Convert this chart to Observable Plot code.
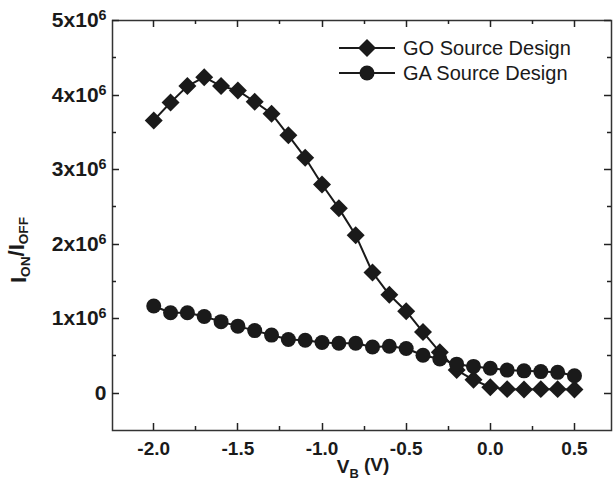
<!DOCTYPE html>
<html><head><meta charset="utf-8">
<script src="https://cdn.jsdelivr.net/npm/d3@7"></script>
<script src="https://cdn.jsdelivr.net/npm/@observablehq/plot@0.6"></script>
<style>body{margin:0;background:#fff} #chart svg{display:block}</style>
</head><body><div id="chart"></div>
<script>
// ---- data ----
const vb = [-2.0,-1.9,-1.8,-1.7,-1.6,-1.5,-1.4,-1.3,-1.2,-1.1,-1.0,-0.9,-0.8,-0.7,-0.6,-0.5,-0.4,-0.3,-0.2,-0.1,0.0,0.1,0.2,0.3,0.4,0.5];
const goValues = [3.66e6,3.90e6,4.12e6,4.24e6,4.12e6,4.06e6,3.91e6,3.75e6,3.46e6,3.16e6,2.80e6,2.48e6,2.12e6,1.62e6,1.32e6,1.10e6,0.82e6,0.55e6,0.31e6,0.18e6,0.08e6,0.055e6,0.05e6,0.055e6,0.055e6,0.05e6];
const gaValues = [1.17e6,1.08e6,1.08e6,1.03e6,0.96e6,0.90e6,0.84e6,0.78e6,0.72e6,0.71e6,0.68e6,0.67e6,0.67e6,0.62e6,0.63e6,0.60e6,0.51e6,0.46e6,0.39e6,0.36e6,0.335e6,0.31e6,0.30e6,0.29e6,0.28e6,0.235e6];
const seriesNames = ["GO Source Design","GA Source Design"];
const xTicks = [-2.0,-1.5,-1.0,-0.5,0.0,0.5];
const xTickLabels = ["-2.0","-1.5","-1.0","-0.5","0.0","0.5"];
const xMinorTicks = [-1.75,-1.25,-0.75,-0.25,0.25];
const yTicks = [0,1e6,2e6,3e6,4e6,5e6];
const yTickLabels = ["0","1x10^6","2x10^6","3x10^6","4x10^6","5x10^6"];
const yMinorTicks = [0.5e6,1.5e6,2.5e6,3.5e6,4.5e6];
const xLabel = ["V","B"," (V)"];
const yLabel = ["I","ON","/I","OFF"];

const goRows = vb.map((x,i)=>({vb:x, value:goValues[i], series:seriesNames[0]}));
const gaRows = vb.map((x,i)=>({vb:x, value:gaValues[i], series:seriesNames[1]}));

const ink = "#1a1a1a";
const font = "Liberation Sans, Arial, Helvetica, sans-serif";
const M = {left: 112, right: 2, top: 20, bottom: 63}, W = 613, H = 493;

const plot = Plot.plot({
  width: W, height: H,
  marginLeft: M.left, marginRight: M.right, marginTop: M.top, marginBottom: M.bottom,
  style: {fontFamily: font, color: ink, background: "#fff"},
  x: {domain: [-2.245, 0.72]},
  y: {domain: [-0.5e6, 5e6]},
  marks: [
    Plot.frame({stroke: "#333", strokeWidth: 1.5}),
    Plot.axisX(xTicks, {anchor: "bottom", tickSize: 0, tickPadding: 11, label: null, fontSize: 19, fontWeight: "bold", fill: ink,
      tickFormat: d => xTickLabels[xTicks.indexOf(d)]}),
    Plot.axisY(yTicks, {anchor: "left", tickSize: 0, tickPadding: 6, label: null, fontSize: 21, fontWeight: "bold", fill: ink,
      tickFormat: d => yTickLabels[yTicks.indexOf(d)]}),
    Plot.line(goRows, {x: "vb", y: "value", stroke: ink, strokeWidth: 2}),
    Plot.dot(goRows, {x: "vb", y: "value", symbol: "diamond2", r: 8.1, fill: ink, stroke: "none"}),
    Plot.line(gaRows, {x: "vb", y: "value", stroke: ink, strokeWidth: 2}),
    Plot.dot(gaRows, {x: "vb", y: "value", symbol: "circle", r: 7.5, fill: ink, stroke: "none"})
  ]
});
document.getElementById("chart").appendChild(plot);

const svg = d3.select(plot);
const sx = plot.scale("x"), sy = plot.scale("y");
const L = M.left, R = W - M.right, T = M.top, B = H - M.bottom;

// inward ticks on all four sides, placed with Plot's own scales
const tg = svg.append("g").attr("stroke", "#222").attr("stroke-width", 1.5).attr("fill", "none");
const addX = (ticks, len) => ticks.forEach(v => {
  const x = Math.round(sx.apply(v)) + 0.5;
  tg.append("line").attr("x1", x).attr("x2", x).attr("y1", B).attr("y2", B - len);
  tg.append("line").attr("x1", x).attr("x2", x).attr("y1", T).attr("y2", T + len);
});
const addY = (ticks, len) => ticks.forEach(v => {
  const y = Math.round(sy.apply(v)) + 0.5;
  tg.append("line").attr("y1", y).attr("y2", y).attr("x1", L).attr("x2", L + len);
  tg.append("line").attr("y1", y).attr("y2", y).attr("x1", R).attr("x2", R - len);
});
addX(xTicks, 7); addX(xMinorTicks, 4);
addY(yTicks, 7); addY(yMinorTicks, 4);

// superscripts in y tick labels
svg.selectAll('g[aria-label="y-axis tick label"] text').each(function(){
  const t = this.textContent;
  if (t.includes("^")) {
    const [base, sup] = t.split("^");
    const sel = d3.select(this);
    sel.text(null);
    sel.append("tspan").text(base);
    sel.append("tspan").attr("dy", "-0.5em").attr("font-size", "0.68em").text(sup);
  }
});

// axis titles
const yl = svg.append("text")
  .attr("transform", "translate(26,250) rotate(-90)")
  .attr("text-anchor", "middle")
  .attr("font-family", font).attr("font-weight", "bold").attr("font-size", 22).attr("fill", ink);
yLabel.forEach((s,i)=>{
  const ts = yl.append("tspan").text(s);
  if (i % 2 === 1) ts.attr("font-size", "0.62em").attr("dy", "0.3em");
  else if (i > 0) ts.attr("dy", "-0.3em");
});
const xl = svg.append("text")
  .attr("x", 363).attr("y", 473)
  .attr("text-anchor", "middle")
  .attr("font-family", font).attr("font-weight", "bold").attr("font-size", 19).attr("fill", ink);
xLabel.forEach((s,i)=>{
  const ts = xl.append("tspan").text(s);
  if (i === 1) ts.attr("font-size", "0.68em").attr("dy", "0.35em");
  if (i === 2) ts.attr("dy", "-0.35em");
});

// legend
const legendSymbols = [d3.symbolDiamond2, d3.symbolCircle];
const legendSizes = [Math.PI*8.1*8.1, Math.PI*7.5*7.5];
const lg = svg.append("g").attr("font-family", font).attr("font-size", 20).attr("fill", ink).attr("text-anchor", "start");
seriesNames.forEach((name,i)=>{
  const y = 48 + i*25;
  lg.append("line").attr("x1", 339).attr("x2", 395).attr("y1", y).attr("y2", y).attr("stroke", ink).attr("stroke-width", 2);
  lg.append("path").attr("d", d3.symbol(legendSymbols[i], legendSizes[i])()).attr("transform", `translate(367,${y})`).attr("fill", ink);
  lg.append("text").attr("x", 403).attr("y", y).attr("dy", "0.35em").attr("text-anchor", "start").text(name);
});
</script></body></html>
